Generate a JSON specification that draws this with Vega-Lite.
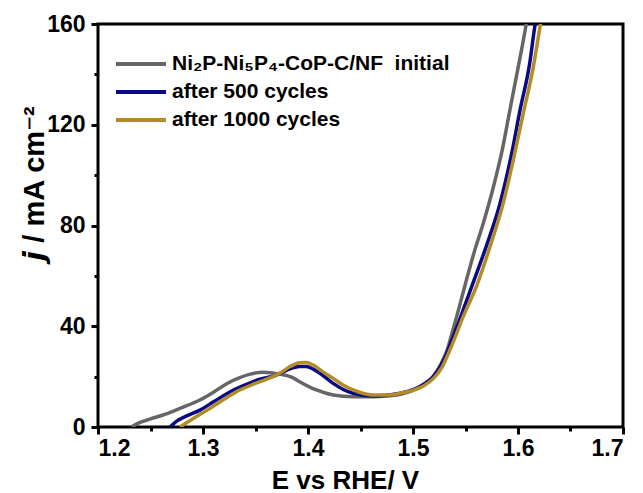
{
  "$schema": "https://vega.github.io/schema/vega-lite/v6.json",
  "width": 525,
  "height": 403,
  "autosize": {"type": "none"},
  "padding": {"left": 98, "top": 24, "right": 20, "bottom": 66},
  "background": "white",
  "config": {
    "view": {"stroke": "black", "strokeWidth": 3},
    "font": "Liberation Sans",
    "axis": {"grid": false, "domain": false, "tickColor": "black", "tickWidth": 3, "labelColor": "black", "labelFont": "Liberation Sans", "labelFontWeight": "bold", "labelFontSize": 23, "titleColor": "black", "titleFont": "Liberation Sans", "titleFontWeight": "bold"}
  },
  "data": {"values": [
    {"s": "Ni₂P-Ni₅P₄-CoP-C/NF\u00a0 initial", "E": 1.232, "j": 0},
    {"s": "Ni₂P-Ni₅P₄-CoP-C/NF\u00a0 initial", "E": 1.240, "j": 1.8},
    {"s": "Ni₂P-Ni₅P₄-CoP-C/NF\u00a0 initial", "E": 1.250, "j": 3.2},
    {"s": "Ni₂P-Ni₅P₄-CoP-C/NF\u00a0 initial", "E": 1.265, "j": 5.2},
    {"s": "Ni₂P-Ni₅P₄-CoP-C/NF\u00a0 initial", "E": 1.278, "j": 7.4},
    {"s": "Ni₂P-Ni₅P₄-CoP-C/NF\u00a0 initial", "E": 1.297, "j": 10.7},
    {"s": "Ni₂P-Ni₅P₄-CoP-C/NF\u00a0 initial", "E": 1.310, "j": 13.8},
    {"s": "Ni₂P-Ni₅P₄-CoP-C/NF\u00a0 initial", "E": 1.323, "j": 17.3},
    {"s": "Ni₂P-Ni₅P₄-CoP-C/NF\u00a0 initial", "E": 1.335, "j": 19.6},
    {"s": "Ni₂P-Ni₅P₄-CoP-C/NF\u00a0 initial", "E": 1.345, "j": 21},
    {"s": "Ni₂P-Ni₅P₄-CoP-C/NF\u00a0 initial", "E": 1.357, "j": 21.7},
    {"s": "Ni₂P-Ni₅P₄-CoP-C/NF\u00a0 initial", "E": 1.373, "j": 21},
    {"s": "Ni₂P-Ni₅P₄-CoP-C/NF\u00a0 initial", "E": 1.385, "j": 19.7},
    {"s": "Ni₂P-Ni₅P₄-CoP-C/NF\u00a0 initial", "E": 1.392, "j": 18},
    {"s": "Ni₂P-Ni₅P₄-CoP-C/NF\u00a0 initial", "E": 1.408, "j": 14.7},
    {"s": "Ni₂P-Ni₅P₄-CoP-C/NF\u00a0 initial", "E": 1.424, "j": 12.7},
    {"s": "Ni₂P-Ni₅P₄-CoP-C/NF\u00a0 initial", "E": 1.443, "j": 12},
    {"s": "Ni₂P-Ni₅P₄-CoP-C/NF\u00a0 initial", "E": 1.462, "j": 12},
    {"s": "Ni₂P-Ni₅P₄-CoP-C/NF\u00a0 initial", "E": 1.475, "j": 12.3},
    {"s": "Ni₂P-Ni₅P₄-CoP-C/NF\u00a0 initial", "E": 1.488, "j": 13},
    {"s": "Ni₂P-Ni₅P₄-CoP-C/NF\u00a0 initial", "E": 1.500, "j": 14.5},
    {"s": "Ni₂P-Ni₅P₄-CoP-C/NF\u00a0 initial", "E": 1.508, "j": 16.3},
    {"s": "Ni₂P-Ni₅P₄-CoP-C/NF\u00a0 initial", "E": 1.519, "j": 20},
    {"s": "Ni₂P-Ni₅P₄-CoP-C/NF\u00a0 initial", "E": 1.526, "j": 24.5},
    {"s": "Ni₂P-Ni₅P₄-CoP-C/NF\u00a0 initial", "E": 1.532, "j": 30},
    {"s": "Ni₂P-Ni₅P₄-CoP-C/NF\u00a0 initial", "E": 1.537, "j": 37},
    {"s": "Ni₂P-Ni₅P₄-CoP-C/NF\u00a0 initial", "E": 1.543, "j": 46},
    {"s": "Ni₂P-Ni₅P₄-CoP-C/NF\u00a0 initial", "E": 1.550, "j": 57},
    {"s": "Ni₂P-Ni₅P₄-CoP-C/NF\u00a0 initial", "E": 1.558, "j": 69},
    {"s": "Ni₂P-Ni₅P₄-CoP-C/NF\u00a0 initial", "E": 1.567, "j": 81},
    {"s": "Ni₂P-Ni₅P₄-CoP-C/NF\u00a0 initial", "E": 1.577, "j": 96},
    {"s": "Ni₂P-Ni₅P₄-CoP-C/NF\u00a0 initial", "E": 1.585, "j": 110},
    {"s": "Ni₂P-Ni₅P₄-CoP-C/NF\u00a0 initial", "E": 1.591, "j": 123},
    {"s": "Ni₂P-Ni₅P₄-CoP-C/NF\u00a0 initial", "E": 1.597, "j": 136},
    {"s": "Ni₂P-Ni₅P₄-CoP-C/NF\u00a0 initial", "E": 1.6035, "j": 150},
    {"s": "Ni₂P-Ni₅P₄-CoP-C/NF\u00a0 initial", "E": 1.607, "j": 158},
    {"s": "Ni₂P-Ni₅P₄-CoP-C/NF\u00a0 initial", "E": 1.609, "j": 163},
    {"s": "after 500 cycles", "E": 1.2686, "j": 0},
    {"s": "after 500 cycles", "E": 1.275, "j": 2.3},
    {"s": "after 500 cycles", "E": 1.285, "j": 4.5},
    {"s": "after 500 cycles", "E": 1.297, "j": 6.7},
    {"s": "after 500 cycles", "E": 1.310, "j": 10},
    {"s": "after 500 cycles", "E": 1.329, "j": 14.7},
    {"s": "after 500 cycles", "E": 1.342, "j": 17},
    {"s": "after 500 cycles", "E": 1.354, "j": 19},
    {"s": "after 500 cycles", "E": 1.370, "j": 20.6},
    {"s": "after 500 cycles", "E": 1.380, "j": 22.6},
    {"s": "after 500 cycles", "E": 1.392, "j": 24},
    {"s": "after 500 cycles", "E": 1.398, "j": 24},
    {"s": "after 500 cycles", "E": 1.405, "j": 23},
    {"s": "after 500 cycles", "E": 1.414, "j": 20.5},
    {"s": "after 500 cycles", "E": 1.424, "j": 17.3},
    {"s": "after 500 cycles", "E": 1.433, "j": 15},
    {"s": "after 500 cycles", "E": 1.443, "j": 13.4},
    {"s": "after 500 cycles", "E": 1.462, "j": 12.3},
    {"s": "after 500 cycles", "E": 1.475, "j": 12.6},
    {"s": "after 500 cycles", "E": 1.488, "j": 13.4},
    {"s": "after 500 cycles", "E": 1.500, "j": 14.8},
    {"s": "after 500 cycles", "E": 1.510, "j": 16.9},
    {"s": "after 500 cycles", "E": 1.519, "j": 19.8},
    {"s": "after 500 cycles", "E": 1.526, "j": 24},
    {"s": "after 500 cycles", "E": 1.532, "j": 29},
    {"s": "after 500 cycles", "E": 1.537, "j": 34.5},
    {"s": "after 500 cycles", "E": 1.543, "j": 41},
    {"s": "after 500 cycles", "E": 1.550, "j": 49},
    {"s": "after 500 cycles", "E": 1.557, "j": 57},
    {"s": "after 500 cycles", "E": 1.570, "j": 72},
    {"s": "after 500 cycles", "E": 1.583, "j": 89},
    {"s": "after 500 cycles", "E": 1.594, "j": 108.6},
    {"s": "after 500 cycles", "E": 1.602, "j": 126},
    {"s": "after 500 cycles", "E": 1.611, "j": 144},
    {"s": "after 500 cycles", "E": 1.616, "j": 159},
    {"s": "after 500 cycles", "E": 1.618, "j": 164},
    {"s": "after 1000 cycles", "E": 1.278, "j": 0},
    {"s": "after 1000 cycles", "E": 1.290, "j": 3.2},
    {"s": "after 1000 cycles", "E": 1.3067, "j": 7.4},
    {"s": "after 1000 cycles", "E": 1.320, "j": 11},
    {"s": "after 1000 cycles", "E": 1.335, "j": 14.7},
    {"s": "after 1000 cycles", "E": 1.348, "j": 17},
    {"s": "after 1000 cycles", "E": 1.3606, "j": 19},
    {"s": "after 1000 cycles", "E": 1.373, "j": 21.3},
    {"s": "after 1000 cycles", "E": 1.383, "j": 24},
    {"s": "after 1000 cycles", "E": 1.392, "j": 25.5},
    {"s": "after 1000 cycles", "E": 1.398, "j": 25.6},
    {"s": "after 1000 cycles", "E": 1.405, "j": 24.6},
    {"s": "after 1000 cycles", "E": 1.414, "j": 22},
    {"s": "after 1000 cycles", "E": 1.424, "j": 19.3},
    {"s": "after 1000 cycles", "E": 1.433, "j": 16.8},
    {"s": "after 1000 cycles", "E": 1.443, "j": 14.7},
    {"s": "after 1000 cycles", "E": 1.452, "j": 13.4},
    {"s": "after 1000 cycles", "E": 1.462, "j": 12.7},
    {"s": "after 1000 cycles", "E": 1.475, "j": 12.7},
    {"s": "after 1000 cycles", "E": 1.488, "j": 13.4},
    {"s": "after 1000 cycles", "E": 1.500, "j": 14.6},
    {"s": "after 1000 cycles", "E": 1.510, "j": 16.3},
    {"s": "after 1000 cycles", "E": 1.520, "j": 19.5},
    {"s": "after 1000 cycles", "E": 1.528, "j": 24},
    {"s": "after 1000 cycles", "E": 1.534, "j": 29.5},
    {"s": "after 1000 cycles", "E": 1.540, "j": 35.5},
    {"s": "after 1000 cycles", "E": 1.547, "j": 43},
    {"s": "after 1000 cycles", "E": 1.5606, "j": 56},
    {"s": "after 1000 cycles", "E": 1.5733, "j": 71.5},
    {"s": "after 1000 cycles", "E": 1.586, "j": 89},
    {"s": "after 1000 cycles", "E": 1.5955, "j": 106},
    {"s": "after 1000 cycles", "E": 1.605, "j": 124.5},
    {"s": "after 1000 cycles", "E": 1.6146, "j": 143},
    {"s": "after 1000 cycles", "E": 1.621, "j": 159},
    {"s": "after 1000 cycles", "E": 1.623, "j": 164}
  ]},
  "layer": [
    {
      "mark": {"type": "line", "strokeWidth": 3.5, "clip": true, "interpolate": "monotone"},
      "encoding": {
        "x": {"field": "E", "type": "quantitative", "scale": {"domain": [1.2, 1.7], "nice": false, "zero": false},
          "axis": {"values": [1.2, 1.3, 1.4, 1.5, 1.6, 1.7], "format": ".1f", "tickSize": 7, "labelPadding": 3, "title": "E vs RHE/ V", "titleFontSize": 26, "titleX": 247, "titleY": 61, "titleAlign": "center", "titleBaseline": "alphabetic"}},
        "y": {"field": "j", "type": "quantitative", "scale": {"domain": [0, 160], "nice": false},
          "axis": {"values": [0, 40, 80, 120, 160], "tickSize": 7, "labelPadding": 6, "title": "𝙟 / mA cm⁻²", "titleFontSize": 29, "titleX": -55, "titleY": 159, "titleAngle": 270, "titleAlign": "center", "titleBaseline": "alphabetic"}},
        "color": {"field": "s", "type": "nominal",
          "scale": {"domain": ["Ni₂P-Ni₅P₄-CoP-C/NF\u00a0 initial", "after 500 cycles", "after 1000 cycles"], "range": ["#666666", "#0a0a88", "#b38c26"]},
          "legend": {"title": null, "orient": "none", "legendX": 31, "legendY": 28, "padding": 0, "symbolType": "M-2.5,0H2.5", "symbolSize": 400, "symbolStrokeWidth": 4, "labelFontSize": 21, "labelFontWeight": "bold", "labelFont": "Liberation Sans", "labelColor": "black", "labelOffset": 19, "labelLimit": 600, "rowPadding": 6}}
      }
    },
    {
      "mark": {"type": "line", "opacity": 0},
      "encoding": {
        "x": {"field": "E", "type": "quantitative", "axis": {"values": [1.25, 1.35, 1.45, 1.55, 1.65], "tickSize": 4, "labels": false, "title": null, "orient": "bottom"}},
        "y": {"field": "j", "type": "quantitative", "axis": {"values": [20, 60, 100, 140], "tickSize": 4, "labels": false, "title": null, "orient": "left"}},
        "detail": {"field": "s"}
      }
    }
  ],
  "resolve": {"axis": {"x": "independent", "y": "independent"}}
}
